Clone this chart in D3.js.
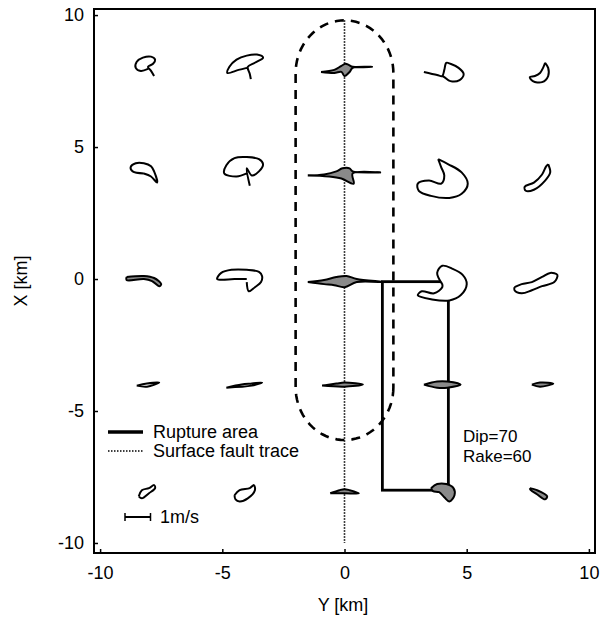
<!DOCTYPE html>
<html><head><meta charset="utf-8">
<script src="https://cdn.jsdelivr.net/npm/d3@7"></script>
<style>body{margin:0;background:#fff}text{font-family:"Liberation Sans",Arial,sans-serif;font-size:18px;fill:#000}</style>
</head><body><svg id="c" width="601" height="624"></svg>
<script>
// Station positions (km)
const stationY = [-8, -4, 0, 4, 8];
const stationX = [8, 4, 0, -4, -8];
// Particle-velocity hodograms, [vY, vX] in m/s, one array per station row (X), ordered by stationY
const hodoX8 = [
  [[-0.04,-0.04],[-0.32,-0.12],[-0.52,0],[-0.48,0.24],[-0.24,0.4],[0.08,0.44],[0.24,0.32],[0.16,0.16],[-0.04,0.04],[0.08,-0.12],[0.2,-0.32]],
  [[0,0],[-0.32,-0.08],[-0.76,-0.2],[-0.68,0.04],[-0.4,0.32],[0,0.48],[0.4,0.52],[0.64,0.4],[0.32,0.2],[0.04,0.04],[0.12,-0.24],[0.16,-0.44]],
  [[-0.92,-0.16],[-0.4,-0.08],[-0.12,0.08],[0.04,0.16],[0.16,0.12],[0.32,0.04],[1.08,0.04],[0.32,0],[0.2,-0.16],[0,-0.32],[-0.12,-0.16],[-0.4,-0.2],[-0.92,-0.16]],
  [[-0.72,-0.16],[-0.2,-0.28],[0,-0.32],[0.08,-0.08],[0.16,0.2],[0.32,0.16],[0.64,0],[0.84,-0.24],[0.68,-0.48],[0.32,-0.52],[0.08,-0.36],[0,-0.32]],
  [[0.2,0.2],[0.32,0],[0.32,-0.32],[0.08,-0.56],[-0.28,-0.52],[-0.4,-0.36],[-0.2,-0.32],[0,-0.2],[0.12,0],[0.2,0.2]]
];
const hodoX4 = [
  [[-0.2,0],[-0.64,0.08],[-0.72,0.24],[-0.52,0.4],[-0.2,0.4],[0.08,0.28],[0.2,0.08],[0.32,-0.36],[0.08,-0.12],[-0.2,0]],
  [[0,0],[-0.4,-0.12],[-0.88,0],[-0.8,0.32],[-0.48,0.6],[0,0.64],[0.48,0.56],[0.64,0.36],[0.48,0.08],[0.2,-0.08],[0,0.2],[0.12,-0.48]],
  [[-1.44,-0.08],[-0.8,-0.04],[-0.32,0.08],[-0.08,0.2],[0.2,0.2],[0.32,0.08],[1.4,0.04],[0.32,0],[0.36,-0.4],[-0.12,-0.2],[-0.6,-0.12],[-1.44,-0.08]],
  [[-0.16,0.56],[0.24,0.36],[0.76,0.04],[1,-0.4],[0.76,-0.8],[0.28,-0.96],[-0.44,-0.88],[-0.92,-0.68],[-0.96,-0.4],[-0.52,-0.28],[-0.04,-0.4],[0.08,-0.08],[-0.04,0.24],[-0.16,0.56]],
  [[0.32,0.36],[0.4,0.04],[0.2,-0.28],[-0.24,-0.64],[-0.56,-0.68],[-0.6,-0.52],[-0.24,-0.36],[0.08,-0.04],[0.24,0.28],[0.32,0.36]]
];
const hodoX0 = [
  [[-0.88,0.08],[-0.2,0.12],[0.2,0.04],[0.48,-0.2],[0.4,-0.28],[0.12,-0.08],[-0.2,0],[-0.88,-0.04],[-0.88,0.08]],
  [[0,0],[-0.48,0],[-1.16,0],[-1,0.24],[-0.6,0.36],[0,0.36],[0.48,0.28],[0.6,0.12],[0.56,-0.12],[0.32,-0.32],[0.08,-0.48],[0,-0.12]],
  [[-1.44,-0.12],[-0.8,-0.04],[-0.32,0.08],[0.08,0.12],[0.48,0],[1.56,-0.12],[0.48,-0.12],[0,-0.32],[-0.4,-0.24],[-0.8,-0.2],[-1.44,-0.12]],
  [[0,-0.2],[-0.2,0.24],[0,0.52],[0.4,0.4],[0.8,0.16],[0.96,-0.2],[0.72,-0.64],[0.28,-0.84],[-0.4,-0.8],[-0.96,-0.64],[-0.8,-0.48],[-0.32,-0.56],[0,-0.32],[0,-0.2]],
  [[-1,-0.32],[-0.72,-0.2],[-0.32,-0.12],[0.08,0.08],[0.4,0.24],[0.68,0.16],[0.56,-0.12],[0.08,-0.28],[-0.32,-0.44],[-0.72,-0.56],[-1,-0.44],[-1,-0.32]]
];
const hodoXm4 = [
  [[-0.48,-0.04],[-0.08,0.04],[0.4,0.08],[-0.08,-0.08],[-0.48,-0.04]],
  [[-0.8,-0.12],[-0.2,0],[0.2,0.04],[0.6,0.08],[0.2,-0.04],[-0.8,-0.12]],
  [[-0.88,-0.04],[-0.32,0.04],[0,0.08],[0.72,0],[0,-0.08],[-0.88,-0.04]],
  [[-0.72,0],[-0.2,0.12],[0.2,0.12],[0.72,0],[0.2,-0.12],[-0.2,-0.12],[-0.72,0]],
  [[-0.32,0],[0,0.08],[0.52,0.04],[0,-0.08],[-0.32,0]]
];
const hodoXm8 = [
  [[-0.4,-0.24],[-0.28,0],[0,0.08],[0.2,0.2],[0.24,0.08],[0,-0.12],[-0.28,-0.32],[-0.4,-0.24]],
  [[-0.48,-0.2],[-0.28,0],[0.12,0.08],[0.28,0.2],[0.32,0],[0.04,-0.32],[-0.28,-0.44],[-0.44,-0.36],[-0.48,-0.2]],
  [[-0.56,-0.12],[-0.2,0],[0,0.04],[0.2,0],[0.56,-0.12],[0,-0.12],[-0.56,-0.12]],
  [[-0.44,0.08],[-0.2,0.24],[0.16,0.24],[0.44,0.08],[0.48,-0.2],[0.28,-0.44],[0.08,-0.28],[-0.12,-0.08],[-0.36,-0.04],[-0.44,0.08]],
  [[-0.4,0.08],[-0.12,0],[0.28,-0.24],[0.2,-0.36],[-0.12,-0.16],[-0.36,0],[-0.4,0.08]]
];
const hodoRows = [hodoX8, hodoX4, hodoX0, hodoXm4, hodoXm8];
// Stations whose traces appear shaded ([Y, X])
const shadedStations = [[0,8],[0,4],[0,0],[0,-4],[0,-8],[-8,0],[4,-4],[4,-8],[8,-8],[8,-4]];
// Rupture area and fault geometry (km)
const ruptureY = [1.55, 4.25];
const ruptureX = [-0.1, -8];
const faultTraceX = [9.8, -10];
const zoneHalfWidth = 2;
const zoneArcCentersX = [7.8, -4.1];
const tickValues = [-10, -5, 0, 5, 10];
const scaleBarValue = 1;

const svg = d3.select('#c');
const xS = d3.scaleLinear().domain([-10.25, 10.25]).range([94, 595]);   // Y [km] horizontal
const yS = d3.scaleLinear().domain([-10.38, 10.23]).range([553, 9]);    // X [km] vertical
const vS = d3.scaleLinear().domain([0, 1]).range([0, 25.5]);            // m/s -> px

// frame
svg.append('rect').attr('x', xS.range()[0]).attr('y', yS.range()[1])
  .attr('width', xS.range()[1]-xS.range()[0]).attr('height', yS.range()[0]-yS.range()[1])
  .attr('fill', 'none').attr('stroke', '#000').attr('stroke-width', 2);

// axes
const ax = svg.append('g').attr('transform', `translate(0,${yS.range()[0]})`)
  .call(d3.axisBottom(xS).tickValues(tickValues).tickSize(-4).tickPadding(9).tickFormat(d => String(d)));
const ay = svg.append('g').attr('transform', `translate(${xS.range()[0]},0)`)
  .call(d3.axisLeft(yS).tickValues(tickValues).tickSize(-4).tickPadding(9).tickFormat(d => String(d)));
[ax, ay].forEach(g => {
  g.select('.domain').remove();
  g.selectAll('line').attr('stroke', '#000').attr('stroke-width', 1.5);
  g.selectAll('text').attr('font-size', 18).attr('font-family', '"Liberation Sans",Arial,sans-serif').attr('fill', '#000');
});
ax.selectAll('text').attr('dy', '0.95em');
ay.selectAll('text').attr('dx', '-1px');

svg.append('text').attr('x', 343).attr('y', 611).attr('text-anchor', 'middle').text('Y [km]');
svg.append('text').attr('transform', 'translate(27,281) rotate(-90)').attr('text-anchor', 'middle').text('X [km]');

// dashed zone (stadium)
const zonePts = [];
const [cTop, cBot] = zoneArcCentersX;
for (let i = 0; i <= 40; i++) { const a = -Math.PI * i / 40; zonePts.push([zoneHalfWidth*Math.cos(a), cBot + zoneHalfWidth*Math.sin(a)]); }
for (let i = 0; i <= 40; i++) { const a = Math.PI - Math.PI * i / 40; zonePts.push([zoneHalfWidth*Math.cos(a), cTop + zoneHalfWidth*Math.sin(a)]); }
zonePts.push(zonePts[0]);
svg.append('path').attr('d', d3.line().x(d => xS(d[0])).y(d => yS(d[1]))(zonePts))
  .attr('fill', 'none').attr('stroke', '#000').attr('stroke-width', 2.6).attr('stroke-dasharray', '9,7');

// surface fault trace
svg.append('line').attr('x1', xS(0)).attr('x2', xS(0)).attr('y1', yS(faultTraceX[0])).attr('y2', yS(faultTraceX[1]))
  .attr('stroke', '#000').attr('stroke-width', 1.6).attr('stroke-dasharray', '1.5,1.5');

// rupture area
svg.append('rect').attr('x', xS(ruptureY[0])).attr('y', yS(ruptureX[0]))
  .attr('width', xS(ruptureY[1]) - xS(ruptureY[0])).attr('height', yS(ruptureX[1]) - yS(ruptureX[0]))
  .attr('fill', 'none').attr('stroke', '#000').attr('stroke-width', 2.8);

// hodograms
const line = d3.line().curve(d3.curveCatmullRom.alpha(0.5));
const isShaded = (y, x) => shadedStations.some(s => s[0] === y && s[1] === x);
hodoRows.forEach((row, ri) => {
  row.forEach((pts, ci) => {
    const sy = stationY[ci], sx = stationX[ri];
    const px = pts.map(p => [xS(sy) + vS(p[0]), yS(sx) - vS(p[1])]);
    const closed = pts[0][0] === pts[pts.length-1][0] && pts[0][1] === pts[pts.length-1][1];
    svg.append('path').attr('d', line(px))
      .attr('fill', isShaded(sy, sx) ? '#8a8a8a' : (closed ? '#fff' : 'none'))
      .attr('stroke', '#000').attr('stroke-width', 2).attr('stroke-linejoin', 'round');
  });
});

// legend
svg.append('line').attr('x1', 108).attr('x2', 143).attr('y1', 432).attr('y2', 432).attr('stroke', '#000').attr('stroke-width', 3.5);
svg.append('text').attr('x', 153).attr('y', 438).text('Rupture area');
svg.append('line').attr('x1', 108).attr('x2', 143).attr('y1', 451).attr('y2', 451).attr('stroke', '#000').attr('stroke-width', 1.6).attr('stroke-dasharray', '1.5,1.5');
svg.append('text').attr('x', 153).attr('y', 457).text('Surface fault trace');

// scale bar
const sbX = 125, sbY = 517;
svg.append('line').attr('x1', sbX).attr('x2', sbX + vS(scaleBarValue)).attr('y1', sbY).attr('y2', sbY).attr('stroke', '#000').attr('stroke-width', 2);
[sbX, sbX + vS(scaleBarValue)].forEach(x => svg.append('line').attr('x1', x).attr('x2', x).attr('y1', sbY-4).attr('y2', sbY+4).attr('stroke', '#000').attr('stroke-width', 1.5));
svg.append('text').attr('x', 160).attr('y', 523).text(scaleBarValue + 'm/s');

// annotation
svg.append('text').attr('x', 463).attr('y', 442).attr('font-size', 17).style('font-size', '17px').text('Dip=70');
svg.append('text').attr('x', 463).attr('y', 462).attr('font-size', 17).style('font-size', '17px').text('Rake=60');
</script></body></html>
